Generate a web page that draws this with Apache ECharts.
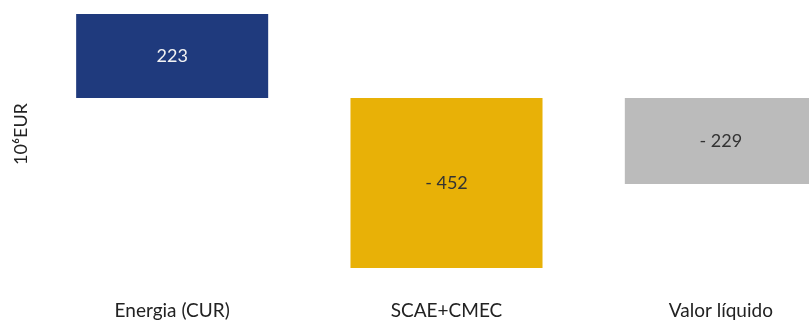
<!DOCTYPE html>
<html>
<head>
<meta charset="utf-8">
<script src="https://cdn.jsdelivr.net/npm/echarts@6/dist/echarts.min.js"></script>
<style>
  html, body { margin: 0; padding: 0; background: #ffffff; overflow: hidden; }
  #chart { width: 860px; height: 320px; }
</style>
</head>
<body>
<div id="chart"></div>
<script>
// Categories and values (10^6 EUR)
const categories = ['Energia (CUR)', 'SCAE+CMEC', 'Valor líquido'];
const values = [223, -452, -229];
const barColors = ['#1f3a7d', '#e8b107', '#bbbbbb'];
const labelColors = ['#f2f2f2', '#333333', '#333333'];
const unitLabel = '10\u2076EUR';

const chart = echarts.init(document.getElementById('chart'), null, { renderer: 'canvas' });

const fontFamily = 'Lato, "Open Sans", sans-serif';

function fmt(v) {
  return v < 0 ? '- ' + Math.abs(v) : String(v);
}

chart.setOption({
  animation: false,
  backgroundColor: '#ffffff',
  grid: { left: 35, right: 2, top: 14, bottom: 52 },
  xAxis: {
    type: 'category',
    data: categories,
    axisLine: { show: false },
    axisTick: { show: false },
    axisLabel: {
      margin: 33,
      fontSize: 19,
      fontFamily: fontFamily,
      color: '#222222'
    }
  },
  yAxis: {
    type: 'value',
    min: -452,
    max: 223,
    show: false
  },
  graphic: [{
    type: 'text',
    rotation: Math.PI / 2,
    x: 21,
    y: 134,
    style: {
      text: unitLabel,
      font: '18px ' + fontFamily,
      fill: '#222222',
      align: 'center',
      verticalAlign: 'middle'
    }
  }],
  series: [{
    type: 'bar',
    barWidth: '70%',
    data: values.map((v, i) => ({
      value: v,
      itemStyle: { color: barColors[i] },
      label: { color: labelColors[i] }
    })),
    label: {
      show: true,
      position: 'inside',
      fontSize: 18,
      fontFamily: fontFamily,
      formatter: p => fmt(p.value)
    }
  }]
});
</script>
</body>
</html>
